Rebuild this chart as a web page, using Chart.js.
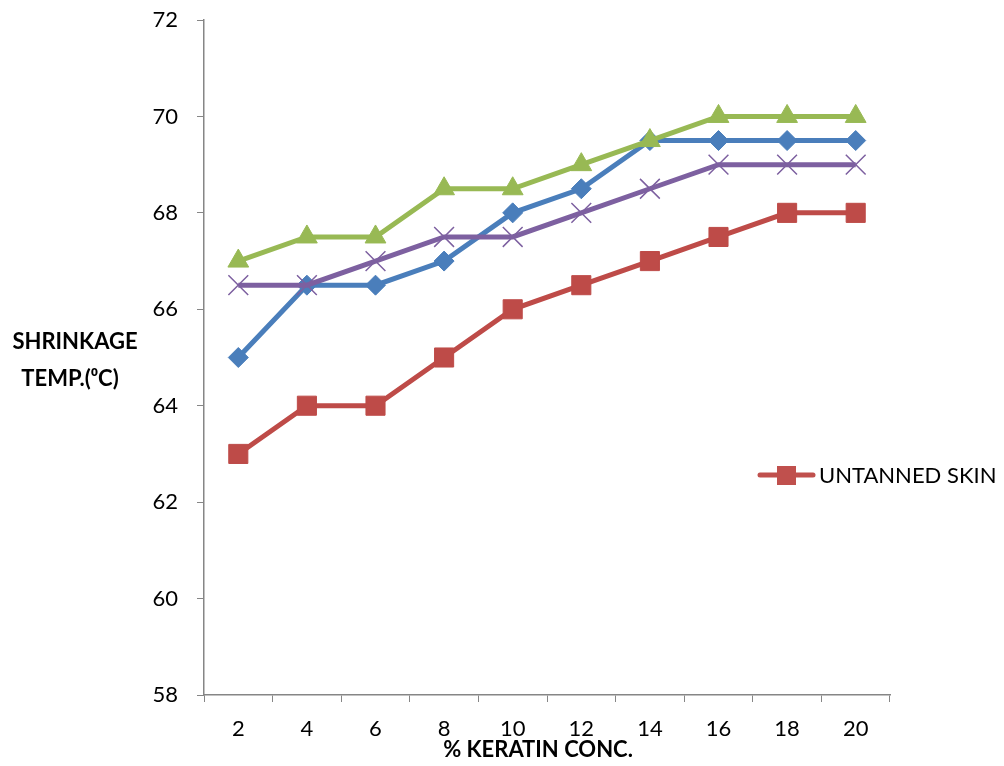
<!DOCTYPE html>
<html>
<head>
<meta charset="utf-8">
<script src="https://cdn.jsdelivr.net/npm/chart.js@4"></script>
<style>
html,body{margin:0;padding:0;background:#fff;}
#wrap{position:relative;width:1004px;height:766px;}
</style>
</head>
<body>
<div id="wrap"><canvas id="c" width="1004" height="766"></canvas></div>
<script>
const categories = ['2','4','6','8','10','12','14','16','18','20'];
const seriesBlue   = [65, 66.5, 66.5, 67, 68, 68.5, 69.5, 69.5, 69.5, 69.5];
const seriesRed    = [63, 64, 64, 65, 66, 66.5, 67, 67.5, 68, 68];
const seriesGreen  = [67, 67.5, 67.5, 68.5, 68.5, 69, 69.5, 70, 70, 70];
const seriesPurple = [66.5, 66.5, 67, 67.5, 67.5, 68, 68.5, 69, 69, 69];
const legendLabel = 'UNTANNED SKIN';
const yTitleLines = ['SHRINKAGE', 'TEMP.(⁰C)'];
const xTitle = '% KERATIN CONC.';

const FONT = 'Lato, "Open Sans", "Liberation Sans", sans-serif';

const extras = {
  id: 'extras',
  afterDraw(chart) {
    const ctx = chart.ctx;
    ctx.save();
    ctx.fillStyle = '#000';
    ctx.font = 'bold 22px ' + FONT;
    ctx.textAlign = 'center';
    ctx.textBaseline = 'middle';
    ctx.fillText(yTitleLines[0], 75, 342);
    ctx.fillText(yTitleLines[1], 70, 379);
    ctx.fillText(xTitle, 538, 750);
    // legend
    const ly = 475;
    ctx.strokeStyle = '#C0504D';
    ctx.lineWidth = 5;
    ctx.lineCap = 'round';
    ctx.beginPath();
    ctx.moveTo(760, ly);
    ctx.lineTo(813, ly);
    ctx.stroke();
    ctx.fillStyle = '#C0504D';
    ctx.fillRect(777, ly - 9, 19, 19);
    ctx.fillStyle = '#000';
    ctx.font = '22px ' + FONT;
    ctx.textAlign = 'left';
    ctx.fillText(legendLabel, 819, ly + 1);
    ctx.restore();
  }
};

const common = { borderWidth: 5, pointBorderWidth: 1, tension: 0, fill: false };

new Chart(document.getElementById('c'), {
  type: 'line',
  data: {
    labels: categories,
    datasets: [
      { ...common, label: 'A', data: seriesBlue, borderColor: '#4A7EBB', backgroundColor: '#4A7EBB', pointBackgroundColor: '#4A7EBB', pointBorderColor: '#4A7EBB', pointStyle: 'rectRot', pointRadius: 10, order: 4 },
      { ...common, label: legendLabel, data: seriesRed, borderColor: '#BE4B48', backgroundColor: '#BE4B48', pointBackgroundColor: '#BE4B48', pointBorderColor: '#BE4B48', pointStyle: 'rect', pointRadius: 13.5, order: 3 },
      { ...common, label: 'C', data: seriesGreen, borderColor: '#98B954', backgroundColor: '#98B954', pointBackgroundColor: '#98B954', pointBorderColor: '#98B954', pointStyle: 'triangle', pointRadius: 12, order: 2 },
      { ...common, label: 'D', data: seriesPurple, borderColor: '#7D60A0', backgroundColor: '#7D60A0', pointBackgroundColor: '#7D60A0', pointBorderColor: '#7D60A0', pointStyle: 'crossRot', pointRadius: 14, pointBorderWidth: 1.5, order: 1 }
    ]
  },
  options: {
    responsive: false,
    animation: false,
    layout: { padding: { left: 0, right: 114, top: 20, bottom: 0 } },
    plugins: { legend: { display: false }, tooltip: { enabled: false } },
    scales: {
      x: {
        type: 'category',
        offset: true,
        grid: { display: true, offset: true, drawOnChartArea: false, tickLength: 7, color: '#868686', lineWidth: 1 },
        border: { display: true, color: '#868686', width: 1.5 },
        ticks: { color: '#000', font: { size: 22, family: FONT }, padding: 14, maxRotation: 0 },
        afterFit(s) { s.height = 71; s.paddingLeft = 0; s.paddingRight = 0; }
      },
      y: {
        min: 58, max: 72,
        ticks: { stepSize: 2, color: '#000', font: { size: 22, family: FONT }, padding: 19 },
        grid: { display: true, drawOnChartArea: false, tickLength: 7, color: '#868686', lineWidth: 1 },
        border: { display: true, color: '#868686', width: 1.5 },
        afterFit(s) { s.width = 204; s.paddingTop = 0; s.paddingBottom = 0; }
      }
    }
  },
  plugins: [extras]
});
</script>
</body>
</html>
